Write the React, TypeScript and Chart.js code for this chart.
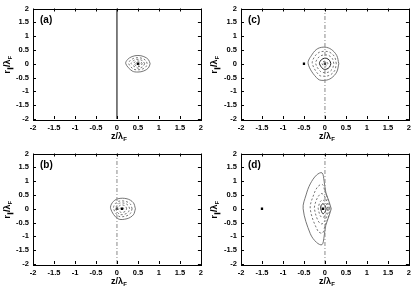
import React, { useEffect, useRef } from "react";
import { Chart, registerables } from "chart.js";

Chart.register(...registerables);

// ---- tick values / labels ----
const TICK_VALUES = [-2, -1.5, -1, -0.5, 0, 0.5, 1, 1.5, 2];
const TICK_LABELS = ["-2", "-1.5", "-1", "-0.5", "0", "0.5", "1", "1.5", "2"];

// ---- contour data (upper halves, from right end at y=0 to left end at y=0; mirrored about y=0) ----
// panel (a)
const A_C1 = [[0.79, 0], [0.75, 0.15], [0.64, 0.26], [0.5, 0.3], [0.36, 0.26], [0.25, 0.15], [0.21, 0]];
const A_C2 = [[0.72, 0], [0.69, 0.11], [0.61, 0.19], [0.5, 0.22], [0.39, 0.19], [0.31, 0.11], [0.28, 0]];
const A_C3 = [[0.66, 0], [0.61, 0.11], [0.5, 0.16], [0.39, 0.11], [0.34, 0]];
const A_C4 = [[0.6, 0], [0.57, 0.07], [0.5, 0.1], [0.43, 0.07], [0.4, 0]];
const A_C5 = [[0.55, 0], [0.535, 0.035], [0.5, 0.05], [0.465, 0.035], [0.45, 0]];
const A_PTS_X = [0.5];
const A_PTS_Y = [0];

// panel (b)
const B_C1 = [[0.44, 0], [0.39, 0.22], [0.24, 0.36], [0.02, 0.36], [-0.11, 0.22], [-0.15, 0]];
const B_C2 = [[0.36, 0], [0.32, 0.17], [0.2, 0.27], [0.04, 0.27], [-0.05, 0.17], [-0.08, 0]];
const B_C3 = [[0.3, 0], [0.27, 0.12], [0.18, 0.2], [0.06, 0.2], [0.0, 0.12], [-0.03, 0]];
const B_C4 = [[0.23, 0], [0.21, 0.08], [0.15, 0.13], [0.09, 0.13], [0.04, 0.08], [0.02, 0]];
const B_C5 = [[0.17, 0], [0.12, 0.05], [0.07, 0]];
const B_PTS_X = [0, 0.12];
const B_PTS_Y = [0, 0];

// panel (c)
const C_C1 = [[0.33, 0], [0.28, 0.3], [0.15, 0.52], [0, 0.6], [-0.17, 0.55], [-0.3, 0.35], [-0.4, 0]];
const C_C2 = [[0.27, 0], [0.23, 0.25], [0.12, 0.41], [0, 0.45], [-0.14, 0.41], [-0.25, 0.25], [-0.3, 0]];
const C_C3 = [[0.21, 0], [0.18, 0.18], [0.09, 0.3], [0, 0.32], [-0.1, 0.29], [-0.18, 0.18], [-0.22, 0]];
const C_C4 = [[0.14, 0], [0.11, 0.12], [0.03, 0.2], [-0.05, 0.18], [-0.11, 0.1], [-0.13, 0]];
const C_C5 = [[0.07, 0], [0.04, 0.07], [-0.02, 0.09], [-0.06, 0.05], [-0.07, 0]];
const C_PTS_X = [-0.5, 0];
const C_PTS_Y = [0, 0];

// panel (d)
const D_C1 = [[0.15, 0], [0.1, 0.25], [0.02, 0.6], [-0.02, 1.0], [-0.07, 1.3], [-0.2, 1.22], [-0.35, 0.9], [-0.45, 0.5], [-0.52, 0]];
const D_C2 = [[0.12, 0], [0.08, 0.3], [0.0, 0.62], [-0.06, 0.88], [-0.17, 0.8], [-0.27, 0.5], [-0.35, 0]];
const D_C3 = [[0.1, 0], [0.05, 0.25], [-0.03, 0.5], [-0.09, 0.55], [-0.17, 0.42], [-0.23, 0.2], [-0.25, 0]];
const D_C4 = [[0.07, 0], [0.03, 0.18], [-0.05, 0.32], [-0.11, 0.26], [-0.15, 0.1], [-0.16, 0]];
const D_C5 = [[0.03, 0], [0.0, 0.12], [-0.05, 0.18], [-0.09, 0.12], [-0.1, 0]];
const D_PTS_X = [-1.5, -0.05];
const D_PTS_Y = [0, 0];

const FONT = "'Liberation Sans', Arial, Helvetica, sans-serif";

function closedLoop(upper: number[][]) {
  const pts = upper.map(([x, y]) => ({ x, y }));
  const low = upper
    .slice(0, upper.length - 1)
    .reverse()
    .map(([x, y]) => ({ x, y: -y }));
  return [...pts, ...low.slice(1), pts[0]];
}

type Style = { color: string; width: number; dash: number[] };
const OUTER: Style = { color: "#666", width: 0.9, dash: [] };
const DASH: Style = { color: "#666", width: 0.9, dash: [2, 2] };
const SOLID_DARK: Style = { color: "#222", width: 1, dash: [] };

type PanelDef = {
  label: string;
  contours: { data: number[][]; style: Style }[];
  ptsX: number[];
  ptsY: number[];
  vline: "solid" | "dashed";
  left: number;
  top: number;
  width: number;
  yWidth: number;
  padRight: number;
};

const PANELS: PanelDef[] = [
  {
    label: "(a)",
    contours: [
      { data: A_C1, style: OUTER },
      { data: A_C2, style: DASH },
      { data: A_C3, style: DASH },
      { data: A_C4, style: DASH },
      { data: A_C5, style: DASH },
    ],
    ptsX: A_PTS_X,
    ptsY: A_PTS_Y,
    vline: "solid",
    left: 0,
    top: 0,
    width: 207,
    yWidth: 33,
    padRight: 5,
  },
  {
    label: "(c)",
    contours: [
      { data: C_C1, style: OUTER },
      { data: C_C2, style: DASH },
      { data: C_C3, style: DASH },
      { data: C_C4, style: SOLID_DARK },
      { data: C_C5, style: DASH },
    ],
    ptsX: C_PTS_X,
    ptsY: C_PTS_Y,
    vline: "dashed",
    left: 207,
    top: 0,
    width: 208,
    yWidth: 34,
    padRight: 6,
  },
  {
    label: "(b)",
    contours: [
      { data: B_C1, style: OUTER },
      { data: B_C2, style: DASH },
      { data: B_C3, style: DASH },
      { data: B_C4, style: DASH },
      { data: B_C5, style: DASH },
    ],
    ptsX: B_PTS_X,
    ptsY: B_PTS_Y,
    vline: "dashed",
    left: 0,
    top: 145,
    width: 207,
    yWidth: 33,
    padRight: 5,
  },
  {
    label: "(d)",
    contours: [
      { data: D_C1, style: OUTER },
      { data: D_C2, style: DASH },
      { data: D_C3, style: DASH },
      { data: D_C4, style: DASH },
      { data: D_C5, style: SOLID_DARK },
    ],
    ptsX: D_PTS_X,
    ptsY: D_PTS_Y,
    vline: "dashed",
    left: 207,
    top: 145,
    width: 208,
    yWidth: 34,
    padRight: 6,
  },
];

const HEIGHT = 145;

function makeDecor(label: string) {
  return {
    id: "decor",
    afterDraw(chart: any) {
      const { ctx, chartArea } = chart;
      const xs = chart.scales.x;
      const ys = chart.scales.y;
      const { left, right, top, bottom } = chartArea;
      ctx.save();
      // frame
      ctx.strokeStyle = "#000";
      ctx.lineWidth = 1;
      ctx.setLineDash([]);
      ctx.strokeRect(Math.round(left) + 0.5, Math.round(top) + 0.5, Math.round(right - left), Math.round(bottom - top));
      // inward ticks, mirrored
      ctx.beginPath();
      for (const v of TICK_VALUES) {
        const px = Math.round(xs.getPixelForValue(v)) + 0.5;
        ctx.moveTo(px, bottom);
        ctx.lineTo(px, bottom - 3);
        ctx.moveTo(px, top);
        ctx.lineTo(px, top + 3);
        const py = Math.round(ys.getPixelForValue(v)) + 0.5;
        ctx.moveTo(left, py);
        ctx.lineTo(left + 3, py);
        ctx.moveTo(right, py);
        ctx.lineTo(right - 3, py);
      }
      ctx.stroke();
      // panel label
      ctx.fillStyle = "#000";
      ctx.font = `bold 10px ${FONT}`;
      ctx.textAlign = "left";
      ctx.textBaseline = "alphabetic";
      ctx.fillText(label, left + 7, top + 14);
      // x title: z/λ_F
      const cx = (left + right) / 2 + 2;
      const ty = bottom + 20;
      const main = "z/λ";
      ctx.font = `bold 9px ${FONT}`;
      const mw = ctx.measureText(main).width;
      ctx.font = `bold 6px ${FONT}`;
      const sw = ctx.measureText("F").width;
      const tot = mw + sw;
      ctx.font = `bold 9px ${FONT}`;
      ctx.fillText(main, cx - tot / 2, ty);
      ctx.font = `bold 6px ${FONT}`;
      ctx.fillText("F", cx - tot / 2 + mw, ty + 2);
      // y title: r_∥/λ_F rotated
      const cy = (top + bottom) / 2 + 1;
      ctx.translate(10, cy);
      ctx.rotate(-Math.PI / 2);
      const parts: [string, number, number][] = [
        ["r", 9, 0],
        ["∥", 6, 2],
        ["/λ", 9, 0],
        ["F", 6, 2],
      ];
      let total = 0;
      for (const [t, s] of parts) {
        ctx.font = `bold ${s}px ${FONT}`;
        total += ctx.measureText(t).width;
      }
      let x0 = -total / 2;
      for (const [t, s, dy] of parts) {
        ctx.font = `bold ${s}px ${FONT}`;
        ctx.fillText(t, x0, dy);
        x0 += ctx.measureText(t).width;
      }
      ctx.restore();
    },
  };
}

function Panel({ def }: { def: PanelDef }) {
  const ref = useRef<HTMLCanvasElement>(null);
  useEffect(() => {
    if (!ref.current) return;
    const datasets: any[] = [];
    datasets.push({
      data: [
        { x: 0, y: -2 },
        { x: 0, y: 2 },
      ],
      showLine: true,
      borderColor: def.vline === "solid" ? "#000" : "#888",
      borderWidth: 1,
      borderDash: def.vline === "solid" ? [] : [4, 2, 1, 2],
      pointRadius: 0,
    });
    for (const c of def.contours) {
      datasets.push({
        data: closedLoop(c.data),
        showLine: true,
        borderColor: c.style.color,
        borderWidth: c.style.width,
        borderDash: c.style.dash,
        pointRadius: 0,
        tension: 0.35,
      });
    }
    datasets.push({
      data: def.ptsX.map((x, i) => ({ x, y: def.ptsY[i] })),
      showLine: false,
      pointStyle: "rect",
      pointRadius: 1.6,
      backgroundColor: "#000",
      borderColor: "#000",
      borderWidth: 0,
    });
    const tickFont = { family: FONT, size: 7.5, weight: "bold" as const };
    const chart = new Chart(ref.current, {
      type: "scatter",
      data: { datasets },
      options: {
        animation: false,
        responsive: false,
        devicePixelRatio: 1,
        layout: { padding: { left: 0, right: def.padRight, top: 5, bottom: 0 } },
        plugins: { legend: { display: false }, tooltip: { enabled: false } },
        scales: {
          x: {
            type: "linear",
            min: -2,
            max: 2,
            afterBuildTicks: (s: any) => {
              s.ticks = TICK_VALUES.map((v) => ({ value: v }));
            },
            ticks: {
              autoSkip: false,
              maxRotation: 0,
              minRotation: 0,
              padding: 4,
              color: "#000",
              font: tickFont,
              callback: (_v: any, i: number) => TICK_LABELS[i],
            },
            grid: { display: false, drawTicks: false },
            border: { display: false },
            afterFit: (s: any) => {
              s.height = 26;
            },
          },
          y: {
            type: "linear",
            min: -2,
            max: 2,
            afterBuildTicks: (s: any) => {
              s.ticks = TICK_VALUES.map((v) => ({ value: v }));
            },
            ticks: {
              autoSkip: false,
              padding: 4,
              color: "#000",
              font: tickFont,
              callback: (_v: any, i: number) => TICK_LABELS[i],
            },
            grid: { display: false, drawTicks: false },
            border: { display: false },
            afterFit: (s: any) => {
              s.width = def.yWidth;
            },
          },
        },
      } as any,
      plugins: [makeDecor(def.label)],
    });
    return () => chart.destroy();
  }, [def]);
  return (
    <canvas
      ref={ref}
      width={def.width}
      height={HEIGHT}
      style={{ position: "absolute", left: def.left, top: def.top, width: def.width, height: HEIGHT }}
    />
  );
}

export default function App() {
  return (
    <div style={{ position: "fixed", left: 0, top: 0, width: 415, height: 290, background: "#fff", overflow: "hidden" }}>
      {PANELS.map((p) => (
        <Panel key={p.label} def={p} />
      ))}
    </div>
  );
}
